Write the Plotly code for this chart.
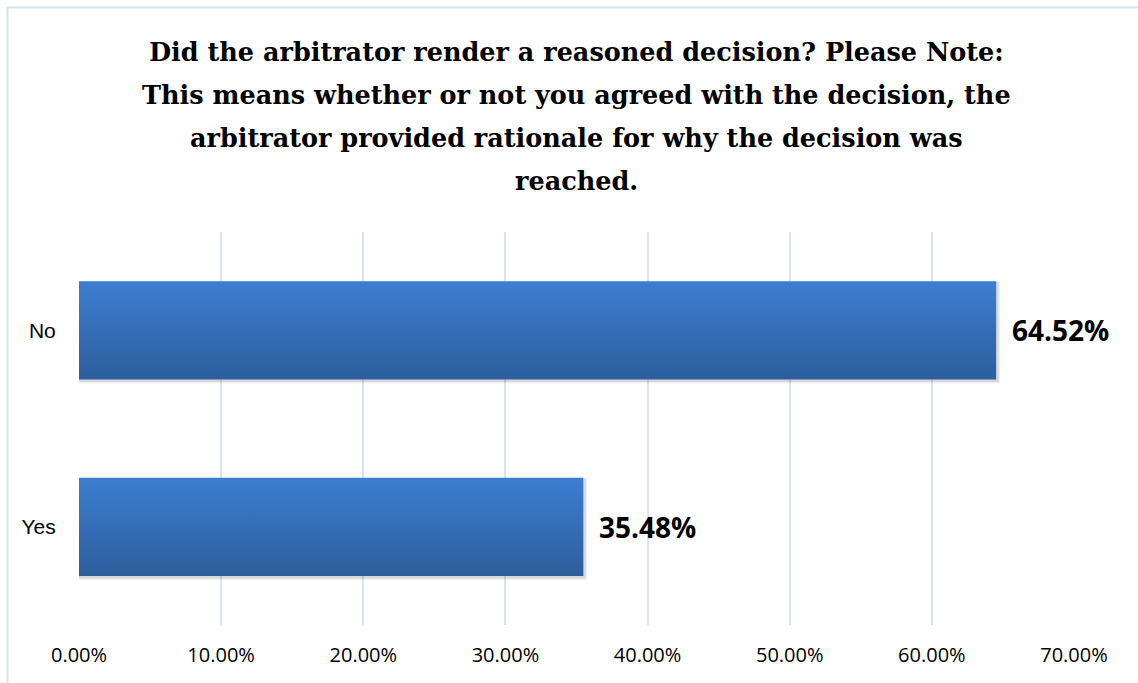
import plotly.graph_objects as go

# Survey results
categories = ["Yes", "No"]
shares = [0.3548, 0.6452]
tick_values = [0.0, 0.1, 0.2, 0.3, 0.4, 0.5, 0.6, 0.7]
tick_labels = ["0.00%", "10.00%", "20.00%", "30.00%", "40.00%", "50.00%", "60.00%", "70.00%"]
title_lines = [
    "Did the arbitrator render a reasoned decision? Please Note:",
    "This means whether or not you agreed with the decision, the",
    "arbitrator provided rationale for why the decision was",
    "reached.",
]

W, H = 1138, 683
M = dict(l=79, r=64, t=232, b=58)
plot_w = W - M["l"] - M["r"]
plot_h = H - M["t"] - M["b"]
x_max = 0.7
half = 0.25  # half bar thickness in category units


def px_to_paper_x(px):
    return (px - M["l"]) / plot_w


def px_to_paper_y(py):
    return (H - M["b"] - py) / plot_h


fig = go.Figure()

# soft drop shadow under each bar
px_x = x_max / plot_w
px_y = 2.0 / plot_h
for i, v in enumerate(shares):
    for off, alpha in [(4, 0.06), (2.5, 0.10)]:
        x0, x1 = 0.0, v + off * px_x
        y0, y1 = i - half - off * px_y, i + half - off * px_y * 0.2
        fig.add_trace(go.Scatter(
            x=[x0, x1, x1, x0, x0], y=[y0, y0, y1, y1, y0],
            mode="lines", line=dict(width=0), fill="toself",
            fillcolor=f"rgba(0,0,0,{alpha})", hoverinfo="skip", showlegend=False,
        ))

# bars with a vertical gradient fill
for i, v in enumerate(shares):
    fig.add_trace(go.Scatter(
        x=[0, v, v, 0, 0], y=[i - half, i - half, i + half, i + half, i - half],
        mode="lines", line=dict(width=0), fill="toself",
        fillgradient=dict(type="vertical",
                          colorscale=[[0, "#2d5e9c"], [1, "#3c7ed1"]]),
        name=categories[i], showlegend=False,
        hovertemplate=f"{categories[i]}: {v:.2%}<extra></extra>",
    ))

# value labels
for i, v in enumerate(shares):
    fig.add_annotation(
        x=v, y=i, xref="x", yref="y", text=f"{v:.2%}", showarrow=False,
        xanchor="left", yanchor="middle", xshift=14,
        font=dict(family="Open Sans", size=28, color="#000000", weight="bold"),
    )

# title, one annotation per line
for k, line in enumerate(title_lines):
    fig.add_annotation(
        x=0.5, xref="paper", y=px_to_paper_y(52 + 43 * k), yref="paper",
        text=f"<b>{line}</b>", showarrow=False, xanchor="center", yanchor="middle",
        font=dict(family="DejaVu Serif", size=25.5, color="#000000"),
    )

# chart border (left and top edges visible)
border = "#d6e2f0"
fig.add_shape(type="line", xref="paper", yref="paper",
              x0=px_to_paper_x(7), x1=px_to_paper_x(W + 5),
              y0=px_to_paper_y(7.5), y1=px_to_paper_y(7.5),
              line=dict(color=border, width=2))
fig.add_shape(type="line", xref="paper", yref="paper",
              x0=px_to_paper_x(7.5), x1=px_to_paper_x(7.5),
              y0=px_to_paper_y(7), y1=px_to_paper_y(H + 5),
              line=dict(color=border, width=2))

fig.update_layout(
    width=W, height=H, margin=M,
    paper_bgcolor="white", plot_bgcolor="white",
    xaxis=dict(range=[0, x_max], tickvals=tick_values, ticktext=tick_labels,
               showgrid=True, gridcolor="#d6e4f4", gridwidth=1.5,
               zeroline=False, showline=False,
               ticks="outside", ticklen=12, tickcolor="rgba(0,0,0,0)",
               tickfont=dict(family="Open Sans", size=20, color="#000000")),
    yaxis=dict(range=[-0.5, 1.5], tickvals=[0, 1], ticktext=categories,
               showgrid=False, zeroline=False, showline=False,
               ticks="outside", ticklen=18, tickcolor="rgba(0,0,0,0)",
               tickfont=dict(family="Liberation Sans", size=21, color="#000000")),
    showlegend=False,
)

fig.write_html("out.html")
